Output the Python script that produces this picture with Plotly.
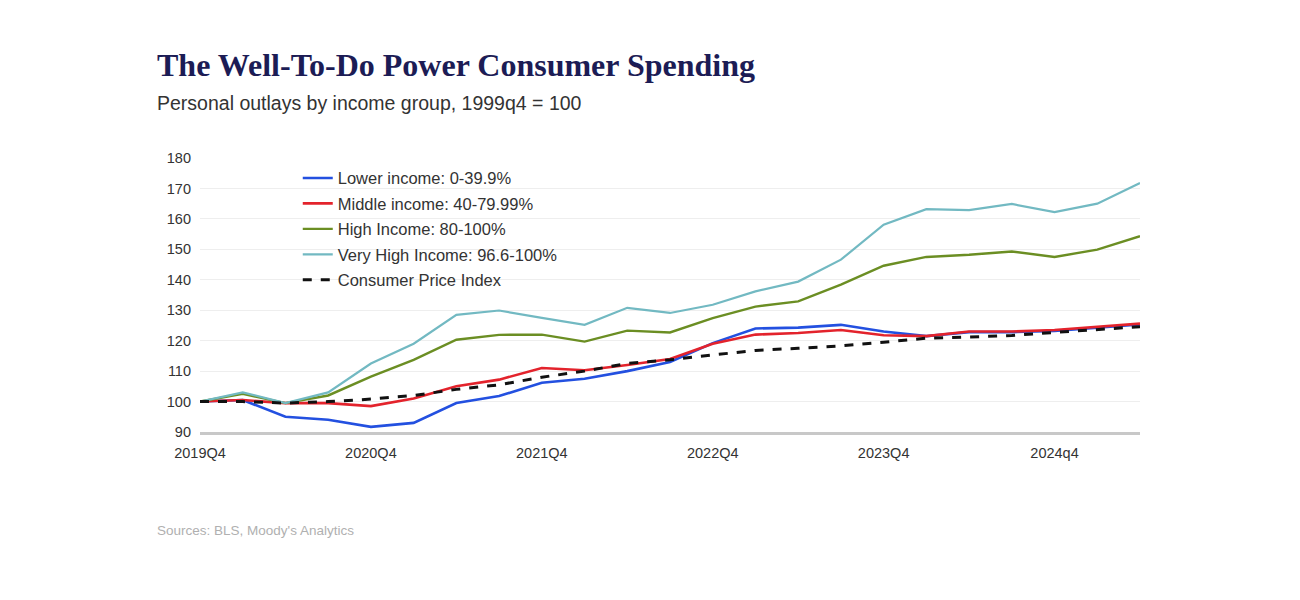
import plotly.graph_objects as go

quarters = ["2019Q4", "2020Q1", "2020Q2", "2020Q3", "2020Q4", "2021Q1", "2021Q2", "2021Q3",
            "2021Q4", "2022Q1", "2022Q2", "2022Q3", "2022Q4", "2023Q1", "2023Q2", "2023Q3",
            "2023Q4", "2024Q1", "2024Q2", "2024Q3", "2024Q4", "2025Q1", "2025Q2"]

lower_income = [100, 100.5, 95, 94, 91.7, 93, 99.5, 101.8, 106.2, 107.5, 110, 113, 119.2, 124,
                124.3, 125.2, 123, 121.5, 122.8, 122.8, 123.2, 124.2, 125.3]
middle_income = [100, 100.5, 99.5, 99.5, 98.5, 101, 105, 107.2, 111, 110.3, 112, 114, 119, 122,
                 122.5, 123.5, 121.8, 121.5, 123, 123, 123.5, 124.5, 125.6]
high_income = [100, 102.5, 99.5, 102, 108.2, 113.7, 120.3, 121.9, 122, 119.7, 123.3, 122.7, 127.4,
               131.2, 132.9, 138.4, 144.6, 147.5, 148.2, 149.3, 147.5, 149.9, 154.3]
very_high_income = [100, 103, 99.5, 103, 112.5, 119, 128.5, 129.9, 127.5, 125.2, 130.8, 129.1,
                    131.8, 136.2, 139.4, 146.6, 158.1, 163.2, 162.9, 164.9, 162.2, 165, 171.8]
cpi = [100, 100, 99.5, 100, 100.8, 102, 104, 105.5, 108, 110, 112.5, 113.7, 115.3, 116.8, 117.5,
       118.3, 119.5, 120.8, 121.2, 121.7, 122.7, 123.6, 124.6]

tick_vals = ["2019Q4", "2020Q4", "2021Q4", "2022Q4", "2023Q4", "2024Q4"]
tick_text = ["2019Q4", "2020Q4", "2021Q4", "2022Q4", "2023Q4", "2024q4"]
y_ticks = [90, 100, 110, 120, 130, 140, 150, 160, 170, 180]

series = [
    ("Lower income: 0-39.9%", lower_income, "#2350e0", 2.6, "solid"),
    ("Middle income: 40-79.99%", middle_income, "#e3232c", 2.6, "solid"),
    ("High Income: 80-100%", high_income, "#6b8e23", 2.4, "solid"),
    ("Very High Income: 96.6-100%", very_high_income, "#72b9c2", 2.2, "solid"),
    ("Consumer Price Index", cpi, "#111111", 3, "dash"),
]

fig = go.Figure()
for i, (name, vals, color, width, dash) in enumerate(series):
    fig.add_trace(go.Scatter(x=quarters, y=vals, name=name, mode="lines", legendgroup=f"g{i}",
                             line=dict(color=color, width=width, dash=dash)))

fig.update_layout(
    width=1300, height=600,
    margin=dict(l=200, r=160, t=158, b=168),
    paper_bgcolor="white", plot_bgcolor="white",
    font=dict(family="Arial, Liberation Sans, sans-serif", color="#333333", size=14),
    showlegend=True,
    legend=dict(x=0.104, y=0.99, xanchor="left", yanchor="top", bgcolor="rgba(0,0,0,0)",
                font=dict(size=16.5, color="#333333"), traceorder="grouped", tracegroupgap=1,
                itemwidth=30),
    xaxis=dict(type="category", range=[0, len(quarters) - 1], tickmode="array",
               tickvals=tick_vals, ticktext=tick_text, showgrid=False, showline=True,
               linecolor="#c8c8c8", linewidth=3, ticks="", ticklabelstandoff=6,
               tickfont=dict(size=14.5, color="#333333")),
    yaxis=dict(range=[90, 180], tickvals=y_ticks, showgrid=True, gridcolor="#eeeeee",
               gridwidth=1, zeroline=False, showline=False, ticks="",
               tickfont=dict(size=14.5, color="#333333"), ticklabelstandoff=8),
    annotations=[
        dict(text="<b>The Well-To-Do Power Consumer Spending</b>", xref="paper", yref="paper",
             x=-0.048, y=1.339, xanchor="left", yanchor="middle", showarrow=False,
             font=dict(family="Liberation Serif, Times New Roman, serif", size=32, color="#1c1c55")),
        dict(text="Personal outlays by income group, 1999q4 = 100", xref="paper", yref="paper",
             x=-0.048, y=1.20, xanchor="left", yanchor="middle", showarrow=False,
             font=dict(size=19.5, color="#333333")),
        dict(text="Sources: BLS, Moody's Analytics", xref="paper", yref="paper",
             x=-0.048, y=-0.358, xanchor="left", yanchor="middle", showarrow=False,
             font=dict(size=13.5, color="#b0b0b0")),
    ],
)

fig.write_html("out.html")
